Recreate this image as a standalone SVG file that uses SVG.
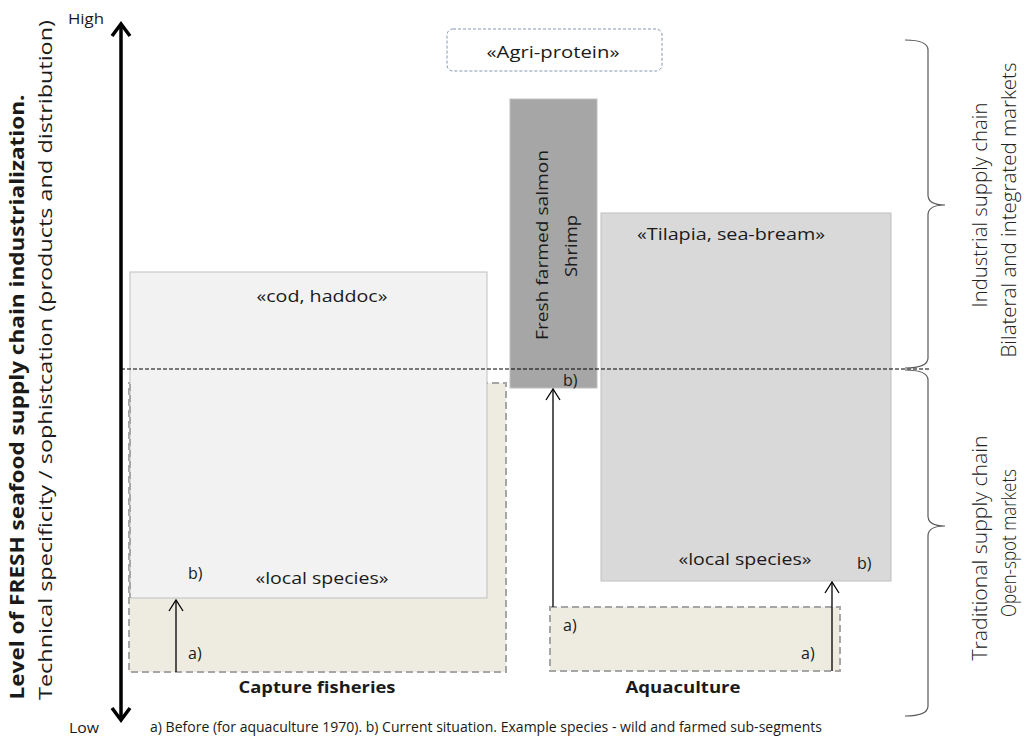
<svg xmlns="http://www.w3.org/2000/svg" width="1032" height="738" viewBox="0 0 1032 738">
<defs>
<style>
text{font-family:"Open Sans","Liberation Sans",sans-serif;fill:#1a1a1a}
.lbl{font-size:16px}
.bold{font-weight:bold}
.cap{font-size:14px}
.side{font-size:20px;fill:#222;font-weight:300}
.beige{fill:#eeece1;stroke:#a6a6a6;stroke-width:2;stroke-dasharray:7,4}
.thin{stroke:#000;stroke-width:1.3;fill:none}
.brace{stroke:#595959;stroke-width:1.2;fill:none}
</style>
</defs>
<rect width="1032" height="738" fill="#fff"/>

<g id="capture-before"><rect class="beige" x="129" y="383" width="377" height="289"/></g>
<g id="capture-now">
<rect x="130" y="272" width="357" height="326" fill="#f2f2f2" stroke="#bfbfbf" stroke-width="1"/>
<line x1="130" y1="384" x2="130" y2="598" stroke="#a6a6a6" stroke-width="2" stroke-dasharray="7,4"/>
<text class="lbl" x="322" y="302" text-anchor="middle" textLength="131" lengthAdjust="spacingAndGlyphs">«cod, haddoc»</text>
<text class="lbl" x="322" y="584" text-anchor="middle" textLength="133" lengthAdjust="spacingAndGlyphs">«local species»</text>
<text class="lbl" x="188" y="579">b)</text>
</g>
<g id="capture-a"><text class="lbl" x="188" y="659">a)</text></g>
<g id="capture-label"><text class="lbl bold" x="317" y="693" text-anchor="middle" textLength="157" lengthAdjust="spacingAndGlyphs">Capture fisheries</text></g>

<g id="aqua-before"><rect class="beige" x="550" y="607" width="290" height="64"/>
<text class="lbl" x="563" y="631">a)</text>
<text class="lbl" x="801" y="659">a)</text></g>
<g id="tilapia">
<rect x="601" y="213" width="290" height="368" fill="#d9d9d9" stroke="#bfbfbf" stroke-width="1"/>
<text class="lbl" x="731" y="240" text-anchor="middle" textLength="188" lengthAdjust="spacingAndGlyphs">«Tilapia, sea-bream»</text>
<text class="lbl" x="745" y="565" text-anchor="middle" textLength="133" lengthAdjust="spacingAndGlyphs">«local species»</text>
<text class="lbl" x="857" y="569">b)</text>
</g>
<g id="salmon">
<rect x="510" y="99" width="87" height="289" fill="#a6a6a6" stroke="#bfbfbf" stroke-width="1"/>
<text class="lbl" transform="translate(548 245) rotate(-90)" text-anchor="middle" textLength="190" lengthAdjust="spacingAndGlyphs">Fresh farmed salmon</text>
<text class="lbl" transform="translate(577 246) rotate(-90)" text-anchor="middle" textLength="62" lengthAdjust="spacingAndGlyphs">Shrimp</text>
<text class="lbl" x="563" y="386">b)</text>
</g>
<g id="agri">
<rect x="447" y="29" width="215" height="42" rx="6" fill="#fff" stroke="#8497b0" stroke-width="1" stroke-dasharray="3,2"/>
<text class="lbl" x="553" y="58" text-anchor="middle" textLength="133" lengthAdjust="spacingAndGlyphs">«Agri-protein»</text>
</g>
<g id="aqua-label"><text class="lbl bold" x="683" y="693" text-anchor="middle" textLength="115" lengthAdjust="spacingAndGlyphs">Aquaculture</text></g>

<g id="axis-labels">
<text class="cap" x="68" y="24" textLength="36" lengthAdjust="spacingAndGlyphs">High</text>
<text class="cap" x="69" y="733" textLength="30" lengthAdjust="spacingAndGlyphs">Low</text>
<text class="cap" x="150" y="732" textLength="672" lengthAdjust="spacingAndGlyphs">a) Before (for aquaculture 1970). b) Current situation.  Example species - wild and farmed sub-segments</text>
<text class="bold" style="font-size:19px" transform="translate(24 397) rotate(-90)" text-anchor="middle" textLength="605" lengthAdjust="spacingAndGlyphs">Level of FRESH seafood supply chain industrialization.</text>
<text style="font-size:19px" transform="translate(52 360) rotate(-90)" text-anchor="middle" textLength="680" lengthAdjust="spacingAndGlyphs">Technical specificity / sophistcation (products and distribution)</text>
</g>
<g id="side-labels">
<text class="side" transform="translate(987 205) rotate(-90)" text-anchor="middle" textLength="205" lengthAdjust="spacingAndGlyphs">Industrial supply chain</text>
<text class="side" transform="translate(1016 210) rotate(-90)" text-anchor="middle" textLength="295" lengthAdjust="spacingAndGlyphs">Bilateral and integrated markets</text>
<text class="side" transform="translate(987 548) rotate(-90)" text-anchor="middle" textLength="225" lengthAdjust="spacingAndGlyphs">Traditional supply chain</text>
<text class="side" transform="translate(1016 543) rotate(-90)" text-anchor="middle" textLength="148" lengthAdjust="spacingAndGlyphs">Open-spot markets</text>
</g>

<g id="connectors">
<line x1="121" y1="25" x2="121" y2="719" stroke="#000" stroke-width="3.5"/>
<path d="M112 36 L121 24 L130 36" fill="none" stroke="#000" stroke-width="3.5"/>
<path d="M112 708 L121 720 L130 708" fill="none" stroke="#000" stroke-width="3.5"/>
<line x1="121" y1="369" x2="930" y2="369" stroke="#000" stroke-width="1.2" stroke-dasharray="4,2"/>
<line class="thin" x1="176" y1="672" x2="176" y2="601"/>
<path class="thin" d="M169 611 L176 600 L183 611"/>
<line class="thin" x1="553" y1="607" x2="553" y2="390"/>
<path class="thin" d="M546 400 L553 389 L560 400"/>
<line class="thin" x1="832" y1="671" x2="832" y2="583"/>
<path class="thin" d="M825 593 L832 582 L839 593"/>
<path class="brace" d="M905 40 Q928 40 928 50 L928 195 Q928 205 945 205 Q928 205 928 215 L928 358 Q928 368 905 368"/>
<path class="brace" d="M905 370 Q928 370 928 380 L928 516 Q928 526 945 526 Q928 526 928 536 L928 706 Q928 716 905 716"/>
</g>
</svg>
